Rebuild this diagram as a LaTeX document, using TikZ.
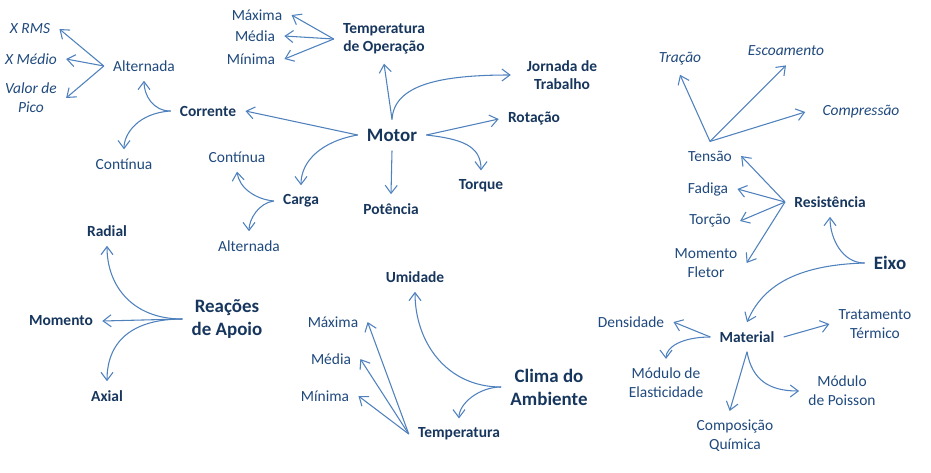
\documentclass[tikz,border=0pt]{standalone}
\usepackage{fontspec}
\setmainfont{Carlito}
\usetikzlibrary{arrows.meta}
\definecolor{regc}{RGB}{31,73,125}
\definecolor{bldc}{RGB}{23,54,93}
\definecolor{arrc}{RGB}{79,129,189}
\begin{document}
\begin{tikzpicture}[x=0.75pt,y=-0.75pt,
  base/.style={inner sep=3pt,outer sep=4pt,align=center},
  reg/.style={base,text=regc,font=\fontsize{11.6}{14}\selectfont},
  itl/.style={base,text=regc,font=\fontsize{11.6}{14}\selectfont\itshape},
  bld/.style={base,text=bldc,font=\fontsize{11.6}{13.5}\selectfont\bfseries},
  big/.style={base,text=bldc,font=\fontsize{14.2}{17.25}\selectfont\bfseries},
  arr/.style={draw=arrc,line width=0.8pt,-{Straight Barb[length=6pt,width=9pt,line width=0.8pt]}}]
\useasboundingbox (0,0) rectangle (931,472);
% Motor group
\node[big] (mot) at (392,135) {Motor};
\node[bld] (top) at (384,39) {Temperatura\\de Operação};
\node[reg] (tmax) at (257,15) {Máxima};
\node[reg] (tmed) at (255,36) {Média};
\node[reg] (tmin) at (251,59) {Mínima};
\node[bld] (jor) at (562,75) {Jornada de\\Trabalho};
\node[bld] (rot) at (534,119) {Rotação};
\node[bld] (tor) at (481,186) {Torque};
\node[bld] (pot) at (391,209) {Potência};
\node[bld] (car) at (301,201) {Carga};
\node[reg] (ccont) at (237,157) {Contínua};
\node[reg] (calt) at (249,246) {Alternada};
\node[bld] (cor) at (208,111) {Corrente};
\node[reg] (alt) at (144,66) {Alternada};
\node[reg] (cont) at (124,164) {Contínua};
\node[itl] (xrms) at (30,29) {X RMS};
\node[itl] (xmed) at (31,59) {X Médio};
\node[itl] (vp) at (31,98) {Valor de\\Pico};
% Reacoes
\node[big] (rea) at (227,319) {Reações\\de Apoio};
\node[bld] (rad) at (107,231) {Radial};
\node[bld] (mom) at (61,321) {Momento};
\node[bld] (axi) at (107,396) {Axial};
% Clima
\node[big] (cli) at (549,387) {Clima do\\Ambiente};
\node[bld] (umi) at (415,277) {Umidade};
\node[bld] (tem) at (459,434) {Temperatura};
\node[reg] (mmax) at (333,322) {Máxima};
\node[reg] (mmed) at (331,359) {Média};
\node[reg] (mmin) at (325,396) {Mínima};
% Eixo
\node[big] (eix) at (890,263) {Eixo};
\node[bld] (res) at (830,202) {Resistência};
\node[reg] (ten) at (710,156) {Tensão};
\node[reg] (fad) at (708,189) {Fadiga};
\node[reg] (torc) at (710,221) {Torção};
\node[reg] (mfl) at (706,263) {Momento\\Fletor};
\node[itl] (tra) at (680,59) {Tração};
\node[itl] (esc) at (786,51) {Escoamento};
\node[itl] (com) at (861,112) {Compressão};
\node[bld] (mat) at (747,337) {Material};
\node[reg] (den) at (631,322) {Densidade};
\node[reg] (mel) at (666,383) {Módulo de\\Elasticidade};
\node[reg] (trt) at (875,324) {Tratamento\\Térmico};
\node[reg] (cqu) at (735,436) {Composição\\Química};
\node[reg] (mpo) at (842,391) {Módulo\\de Poisson};
% connectors: Motor
\draw[arr] (top.west) -- (tmax.east);
\draw[arr] (top.west) -- (tmed.east);
\draw[arr] (top.west) -- (tmin.east);
\draw[arr] (mot.north) -- (top.south);
\draw[arr] (mot.north) .. controls +(2,-35) and +(-70,0) .. ([xshift=-5pt]jor.west);
\draw[arr] (mot.west) -- (cor.east);
\draw[arr] (mot.east) -- (rot.west);
\draw[arr] (mot.east) .. controls +(35,4) and +(0,-25) .. (tor.north);
\draw[arr] (mot.south) -- (pot.north);
\draw[arr] (mot.west) .. controls +(-35,6) and +(0,-25) .. (car.north);
\draw[arr] (car.west) .. controls +(-20,-2) and +(2,15) .. (ccont.south);
\draw[arr] (car.west) .. controls +(-15,2) and +(0,-12) .. (calt.north);
\draw[arr] (cor.west) .. controls +(-18,0) and +(0,14) .. (alt.south);
\draw[arr] (cor.west) .. controls +(-32,2) and +(0,-16) .. (cont.north);
\draw[arr] (alt.west) -- (xrms.east);
\draw[arr] (alt.west) -- (xmed.east);
\draw[arr] (alt.west) -- (vp.east);
% Reacoes
\draw[arr] (rea.west) .. controls +(-50,0) and +(0,40) .. (rad.south);
\draw[arr] (rea.west) -- (mom.east);
\draw[arr] (rea.west) .. controls +(-50,0) and +(0,-40) .. (axi.north);
% Clima
\draw[arr] (cli.west) .. controls +(-55,0) and +(0,50) .. (umi.south);
\draw[arr] (cli.west) .. controls +(-22,0) and +(0,-15) .. (tem.north);
\draw[arr] (tem.west) -- (mmax.east);
\draw[arr] (tem.west) -- (mmed.east);
\draw[arr] (tem.west) -- (mmin.east);
% Eixo
\draw[arr] (eix.west) .. controls +(-22,0) and +(0,22) .. (res.south);
\draw[arr] (eix.west) .. controls +(-70,2) and +(15,-35) .. (mat.north);
\draw[arr] (res.west) -- (ten.east);
\draw[arr] (res.west) -- (fad.east);
\draw[arr] (res.west) -- (torc.east);
\draw[arr] (res.west) -- (mfl.east);
\draw[arr] (ten.north) -- (tra.south);
\draw[arr] (ten.north) -- (esc.south);
\draw[arr] (ten.north) -- ([xshift=-6pt]com.west);
\draw[arr] (mat.west) -- (den.east);
\draw[arr] (mat.west) .. controls +(-28,0) and +(0,-12) .. (mel.north);
\draw[arr] (mat.east) -- (trt.west);
\draw[arr] (mat.south) -- ([xshift=-4pt]cqu.north);
\draw[arr] (mat.south) .. controls +(5,28) and +(-30,0) .. (mpo.west);
\end{tikzpicture}
\end{document}
